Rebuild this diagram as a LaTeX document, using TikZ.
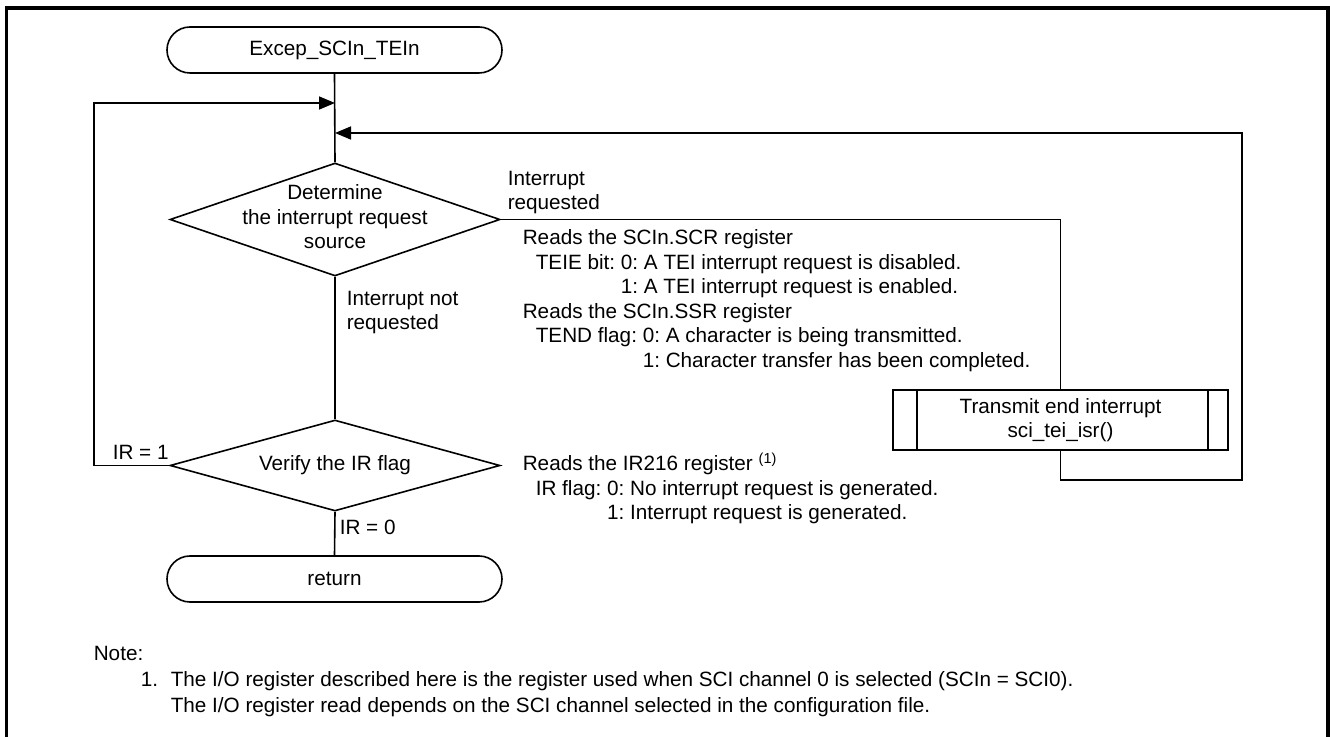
\documentclass[tikz,border=0pt]{standalone}
\usepackage{fontspec}
\setmainfont{Liberation Sans}
\usetikzlibrary{shapes.geometric,arrows.meta}
\frenchspacing
\begin{document}
\begin{tikzpicture}[x=0.5pt,y=-0.5pt, line width=0.8pt,
  font=\fontsize{10.35pt}{12.25pt}\selectfont\frenchspacing,
  term/.style={draw, rounded corners=11.5pt, minimum width=167.5pt, minimum height=23pt, inner sep=0pt},
  dec/.style={draw, diamond, minimum width=165pt, inner sep=0pt},
  proc/.style={draw, minimum width=167.5pt, minimum height=30pt, inner sep=0pt, align=center,
    path picture={
      \draw ([xshift=12pt]path picture bounding box.north west) -- ([xshift=12pt]path picture bounding box.south west);
      \draw ([xshift=-10pt]path picture bounding box.north east) -- ([xshift=-10pt]path picture bounding box.south east);}},
  txt/.style={inner sep=0pt, align=left, anchor=north west},
  lbl/.style={inner sep=0pt, anchor=west},
  arr/.style={-{Triangle[length=8pt,width=6.5pt]}},
  frame/.style={line width=1.6pt}
]
\useasboundingbox (0,0) rectangle (1330,737);
\draw[frame] (6.5,745) -- (6.5,8) -- (1328,8) -- (1328,745);

\node[term] (start) at (334.5,50) {Excep\_SCIn\_TEIn};
\node[dec, minimum height=56.5pt] (d1) at (335,219.5)
  {\makebox[0pt]{\begin{tabular}{@{}c@{}}Determine\\the interrupt request\\source\end{tabular}}};
\node[dec, minimum height=45.5pt] (d2) at (335,465.5) {\makebox[0pt]{Verify the IR flag}};
\node[term] (ret) at (334.5,579) {return};
\node[proc] (proc) at (1060.5,420) {Transmit end interrupt\\sci\_tei\_isr()};

\coordinate (lx) at (94,0);
\coordinate (j1) at (335,103);
\coordinate (j2) at (335,133);
\coordinate (rx) at (1242,480);

\draw (start.south) -- (d1.north);
\draw (d1.south) -- (d2.north);
\draw (d2.south) -- (ret.north);
\draw[arr] (d2.west) -- (d2.west -| lx) |- (j1);
\draw (d1.east) -| (proc.north);
\draw[arr] (proc.south) |- (rx) |- (j2);

\node[txt] (lreq) at (507,170) {Interrupt\\requested};
\node[txt] (lnot) at (346,290) {Interrupt not\\requested};
\node[lbl] (lir1) at (112,452) {IR = 1};
\node[lbl] (lir0) at (339,527) {IR = 0};

\node[txt] (desc1) at (522,229) {Reads the SCIn.SCR register\\
\hspace*{6.5pt}TEIE bit: 0: A TEI interrupt request is disabled.\\
\hspace*{6.5pt}\phantom{TEIE bit: }1: A TEI interrupt request is enabled.\\
Reads the SCIn.SSR register\\
\hspace*{6.5pt}TEND flag: 0: A character is being transmitted.\\
\hspace*{6.5pt}\phantom{TEND flag: }1: Character transfer has been completed.};

\node[txt] (desc2) at (522,455) {Reads the IR216 register \smash{\textsuperscript{(1)}}\\
\hspace*{6.5pt}IR flag: 0: No interrupt request is generated.\\
\hspace*{6.5pt}\phantom{IR flag: }1: Interrupt request is generated.};

\node[txt, font=\fontsize{10.35pt}{13pt}\selectfont\frenchspacing] (note) at (93,645) {Note:\\
\hspace*{23.5pt}\makebox[15pt][l]{1.}The I/O register described here is the register used when SCI channel 0 is selected (SCIn = SCI0).\\
\hspace*{38.5pt}The I/O register read depends on the SCI channel selected in the configuration file.};
\end{tikzpicture}
\end{document}
